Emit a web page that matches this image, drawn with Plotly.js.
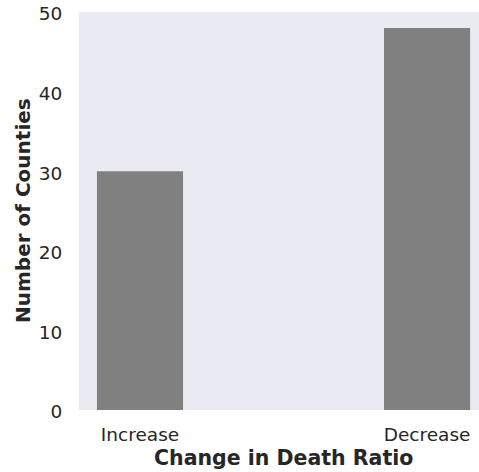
<!DOCTYPE html>
<html>
<head>
<meta charset="utf-8">
<script src="https://cdn.plot.ly/plotly-3.0.1.min.js"></script>
<style>html,body{margin:0;padding:0;background:#fff;}#chart{width:479px;height:472px;}</style>
</head>
<body>
<div id="chart"></div>
<script>
const categories = ["Increase", "Decrease"];
const counts = [30, 48];
const yTicks = [0, 10, 20, 30, 40, 50];

const data = [{
  type: "bar",
  x: [0, 1],
  y: counts,
  width: 0.3,
  marker: {color: "#808080", line: {width: 0}},
  hoverinfo: "skip"
}];

const layout = {
  width: 479,
  height: 472,
  margin: {l: 79, r: 0, t: 11.5, b: 61.5},
  paper_bgcolor: "#ffffff",
  plot_bgcolor: "#EAEAF2",
  font: {family: "DejaVu Sans", color: "#262626"},
  showlegend: false,
  xaxis: {
    range: [-0.2125, 1.181],
    tickvals: [0, 1],
    ticktext: categories,
    showgrid: false,
    zeroline: false,
    showline: false,
    ticks: "outside",
    ticklen: 8,
    tickcolor: "rgba(0,0,0,0)",
    tickfont: {size: 18.5, color: "#262626"},
    fixedrange: true
  },
  yaxis: {
    range: [0, 50],
    tickvals: yTicks,
    showgrid: false,
    zeroline: false,
    showline: false,
    ticks: "outside",
    ticklen: 12,
    tickcolor: "rgba(0,0,0,0)",
    ticklabelshift: 2,
    tickfont: {size: 18.5, color: "#262626"},
    fixedrange: true
  },
  annotations: [{
    text: "<b>Change in Death Ratio</b>",
    xref: "x", yref: "paper",
    x: 0.5, y: 0,
    xanchor: "center", yanchor: "middle",
    yshift: -48,
    showarrow: false,
    font: {size: 20.5, color: "#262626", family: "DejaVu Sans"}
  }, {
    text: "<b>Number of Counties</b>",
    xref: "paper", yref: "paper",
    x: 0, y: 0.5,
    xanchor: "center", yanchor: "middle",
    xshift: -56,
    textangle: -90,
    showarrow: false,
    font: {size: 20, color: "#262626", family: "DejaVu Sans"}
  }]
};

Plotly.newPlot("chart", data, layout, {displayModeBar: false, staticPlot: true});
</script>
</body>
</html>
